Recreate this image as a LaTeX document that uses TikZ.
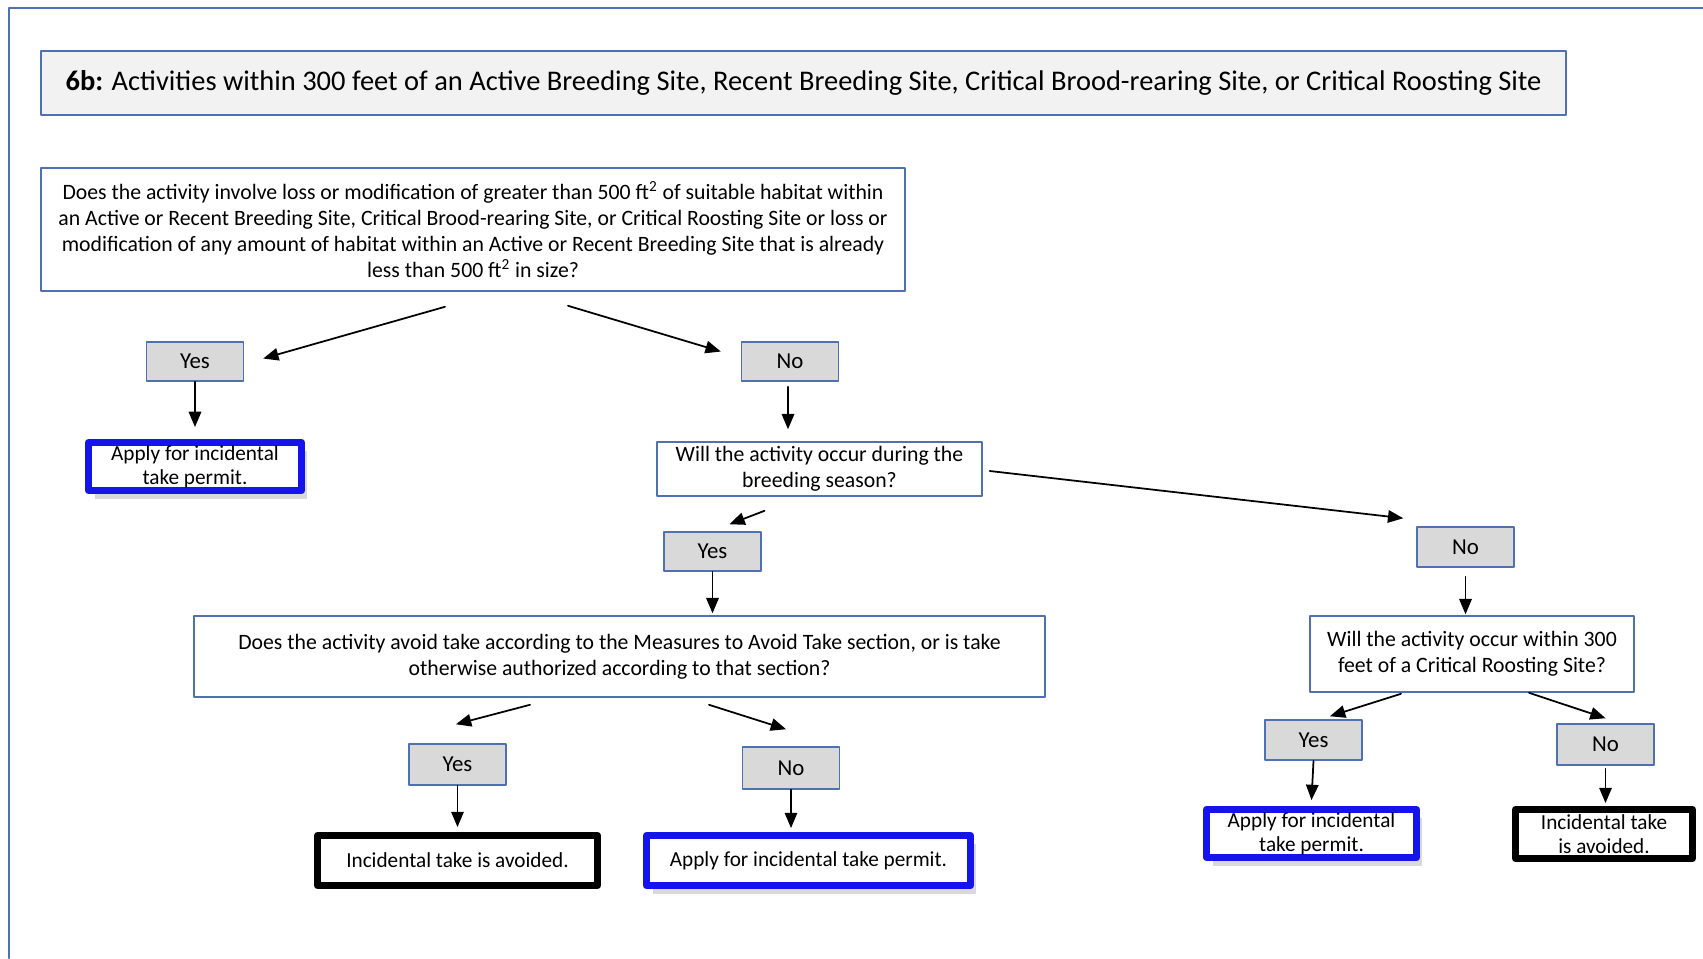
\documentclass[tikz,border=0pt]{standalone}
\usepackage{fontspec}
\setmainfont{Carlito}
\newfontfamily\narrowfont{Carlito}[FakeStretch=0.99]
\usepackage{xcolor}
\usepackage{tikz}
\usetikzlibrary{arrows,calc,shadows}
\definecolor{frameblue}{RGB}{79,113,176}
\definecolor{labelgray}{RGB}{217,217,217}
\definecolor{titlegray}{RGB}{242,242,242}
\definecolor{strongblue}{RGB}{20,20,235}

\begin{document}
\begin{tikzpicture}[line cap=round,line join=round,>=triangle 45,x=0.02cm,y=-0.02cm,
  heading/.style={draw=frameblue,line width=1.2pt,fill=titlegray,inner sep=0pt,
    minimum width=30.5cm,minimum height=1.28cm,font=\fontsize{16.2}{19}\selectfont},
  question/.style={draw=frameblue,line width=0.9pt,fill=white,inner sep=0pt,align=center,
    font=\narrowfont\fontsize{12.5}{14.8}\selectfont},
  answer/.style={draw=frameblue,line width=0.9pt,fill=labelgray,inner sep=0pt,
    minimum width=1.94cm,minimum height=0.78cm,font=\fontsize{13}{15}\selectfont},
  permit/.style={draw=strongblue,line width=4pt,fill=white,inner sep=0pt,align=center,
    font=\narrowfont\fontsize{12.2}{13.6}\selectfont,
    drop shadow={shadow xshift=0.12cm,shadow yshift=-0.17cm,opacity=0.3}},
  avoided/.style={draw=black,line width=4pt,fill=white,inner sep=0pt,align=center,
    font=\narrowfont\fontsize{12.2}{13.6}\selectfont},
  arr/.style={->,line width=1pt}]
\useasboundingbox (0,0) rectangle (1703,958);
% outer frame
\draw[frameblue,line width=1.3pt] (9,958) -- (9,8) -- (1703,8);
% heading
\node[heading] (head) at (803.5,83) {\textbf{6b:} Activities within 300 feet of an Active Breeding Site, Recent Breeding Site, Critical Brood-rearing Site, or Critical Roosting Site};
% first question
\node[question,minimum width=17.28cm,minimum height=2.46cm] (q1) at (473,229.5)
  {Does the activity involve loss or modification of greater than 500 ft\textsuperscript{2} of suitable habitat within\\
   an Active or Recent Breeding Site, Critical Brood-rearing Site, or Critical Roosting Site or loss or\\
   modification of any amount of habitat within an Active or Recent Breeding Site that is already\\
   less than 500 ft\textsuperscript{2} in size?};
\node[answer] (yesA) at (195,361.5) {Yes};
\node[answer] (noA) at (790,361.5) {No};
\node[permit,minimum width=4.26cm,minimum height=0.96cm] (applyA) at (195,466.5) {Apply for incidental\\take permit.};
% breeding season
\node[question,minimum width=6.5cm,minimum height=1.08cm] (q2) at (819.5,469)
  {Will the activity occur during the\\breeding season?};
\node[answer] (yesB) at (712.5,551.5) {Yes};
\node[answer,minimum height=0.8cm] (noB) at (1465.5,547) {No};
% avoid take
\node[question,minimum width=17.02cm,minimum height=1.62cm] (q3) at (619.5,656.5)
  {Does the activity avoid take according to the Measures to Avoid Take section, or is take\\
   otherwise authorized according to that section?};
\node[answer,minimum height=0.82cm] (yesC) at (457.5,764.5) {Yes};
\node[answer,minimum height=0.84cm] (noC) at (791,768) {No};
\node[avoided,minimum width=5.6cm,minimum height=1cm] (avoidA) at (457.5,860.5) {Incidental take is avoided.};
\node[permit,minimum width=6.48cm,minimum height=1cm] (applyB) at (808.5,860.5) {Apply for incidental take permit.};
% roosting site
\node[question,minimum width=6.48cm,minimum height=1.52cm] (q4) at (1472,654)
  {Will the activity occur within 300\\feet of a Critical Roosting Site?};
\node[answer,minimum height=0.8cm] (yesD) at (1313.5,740) {Yes};
\node[answer,minimum height=0.82cm] (noD) at (1605.5,744.5) {No};
\node[permit,minimum width=4.2cm,minimum height=0.96cm] (applyC) at (1311.5,833.5) {Apply for incidental\\take permit.};
\node[avoided,minimum width=3.54cm,minimum height=0.98cm] (avoidB) at (1604,834) {Incidental take\\is avoided.};
% connectors
\draw[arr] ($(q1.south)+(-28,15)$) -- ($(yesA.east)+(19,-3)$);
\draw[arr] ($(q1.south)+(95,14)$) -- ($(noA.west)+(-20,-10)$);
\draw[arr] (yesA.south) -- ($(applyA.north)+(0,-12)$);
\draw[arr] ($(noA.south)+(-2,5)$) -- ($(noA.south |- q2.north)+(-2,-12)$);
\draw[arr] ($(q2.south)+(-55,14)$) -- ($(yesB.north)+(17,-7)$);
\draw[arr] ($(q2.east)+(7,2)$) -- ($(noB.north west)+(-13,-8)$);
\draw[arr] (yesB.south) -- ($(yesB.south |- q3.north)+(0,-2)$);
\draw[arr] ($(noB.south)+(0,9)$) -- ($(noB.south |- q4.north)+(0,-1)$);
\draw[arr] ($(q3.south)+(-89.5,7)$) -- ($(yesC.north)+(-1.5,-19)$);
\draw[arr] ($(q3.south)+(89.5,7)$) -- ($(noC.north)+(-5,-17)$);
\draw[arr] (yesC.south) -- ($(avoidA.north)+(0,-5)$);
\draw[arr] (noC.south) -- ($(noC.south |- applyB.north)+(0,-4)$);
\draw[arr] ($(q4.south)+(-71,1)$) -- ($(yesD.north)+(16.5,-3)$);
\draw[arr] ($(q4.south)+(57,0)$) -- ($(noD.north)+(0,-5)$);
\draw[arr] (yesD.south) -- ($(applyC.north)+(0,-6)$);
\draw[arr] ($(noD.south)+(0,3)$) -- ($(noD.south |- avoidB.north)+(0,-3)$);
\end{tikzpicture}
\end{document}
